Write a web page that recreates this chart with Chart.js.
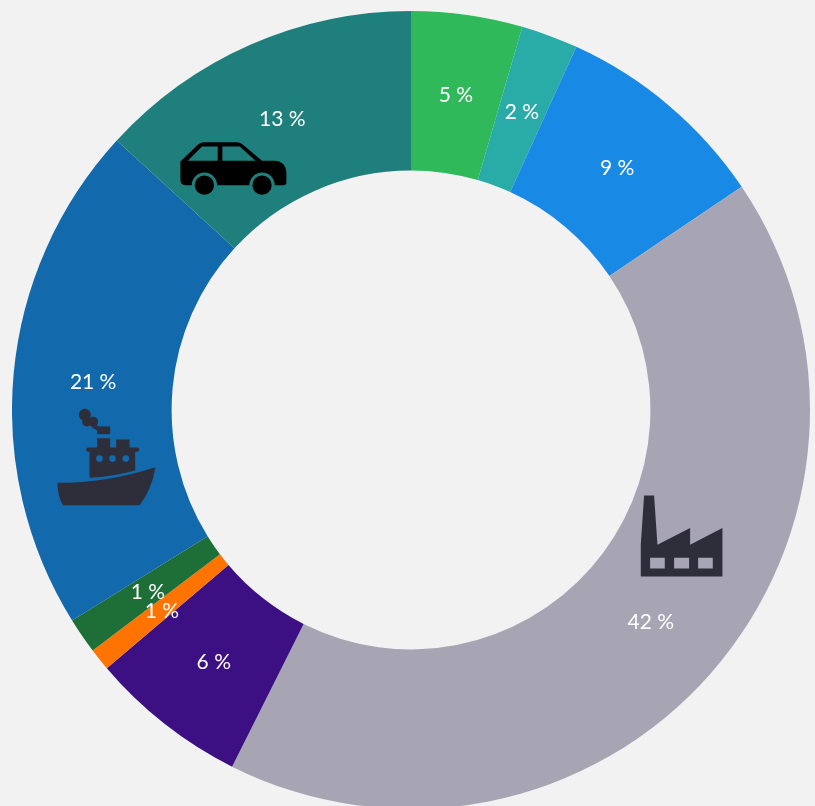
<!DOCTYPE html>
<html>
<head>
<meta charset="utf-8">
<title>Doughnut</title>
<script src="https://cdn.jsdelivr.net/npm/chart.js@4"></script>
<style>
  html, body { margin: 0; height: 100%; background: #f2f2f2; overflow: hidden; }
  #myChart { position: absolute; left: 12px; top: 11px; }
</style>
</head>
<body>
<canvas id="myChart" width="798" height="798"></canvas>
<script>
const sliceNames = ['a', 'b', 'c', 'industry', 'd', 'e', 'f', 'shipping', 'cars'];
const sliceValues = [4.5, 2.3, 8.75, 41.85, 6.4, 0.9, 1.45, 20.65, 13.2];
const sliceLabels = ['5 %', '2 %', '9 %', '42 %', '6 %', '1 %', '1 %', '21 %', '13 %'];
const sliceColors = ['#2fb95a', '#29aca8', '#1989e6', '#a7a5b4', '#3c0f82', '#ff7300', '#1d6f37', '#1269ab', '#1f7f7d'];

// icons are drawn at 3x in their own box, then scaled down, dx/dy go from the slice centre
const carPath = 'M30 185 L82 135 Q90 127 100 127 L200 127 Q208 127 214 132 L275 183 L312 183 Q348 185 348 222 L348 248 Q348 256 340 256 L313 256 ' +
  'A38 38 0 0 0 237 256 L140 256 A38 38 0 0 0 64 256 L45 256 Q30 256 30 240 Z ' +
  'M52 183 L95 140 L142 140 L142 183 Z M156 183 L156 140 L208 140 L255 183 Z ' +
  'M131 256 A29 29 0 1 1 73 256 A29 29 0 1 1 131 256 Z M304 256 A29 29 0 1 1 246 256 A29 29 0 1 1 304 256 Z';
const shipPath = 'M22 355 Q170 355 316 308 Q305 375 268 422 L38 422 Q22 395 22 355 Z ' +
  'M118 340 L118 262 L114 262 Q108 262 108 255 Q108 249 114 249 L141 249 L141 221 L180 221 L180 249 L198 249 L198 225 L238 225 L238 249 L261 249 Q267 249 267 255 Q267 262 261 262 L255 262 L255 318 Q190 336 118 340 Z ' +
  'M138 282 A10 10 0 1 0 158 282 A10 10 0 1 0 138 282 Z M177 282 A10 10 0 1 0 197 282 A10 10 0 1 0 177 282 Z M217 282 A10 10 0 1 0 237 282 A10 10 0 1 0 217 282 Z ';
const shipTop = 'M141 186 L180 186 L180 209 L141 209 Z';
const smoke1 = 'M86 151 A18 18 0 1 1 122 151 A18 18 0 1 1 86 151 Z';
const smoke2 = 'M96 172 A14 14 0 1 1 124 172 A14 14 0 1 1 96 172 Z';
const smoke3 = 'M114 172 A15 15 0 1 1 144 172 A15 15 0 1 1 114 172 Z';
const smoke4 = 'M130 176 L145 186 L141 198 L125 188 Z';
const factoryPath = 'M60 275 L60 180 L70 32 L100 32 L110 180 L208 130 L208 180 L305 130 L305 275 Z ' +
  'M88 219 L88 251 L132 251 L132 219 Z M160 219 L160 251 L205 251 L205 219 Z M232 219 L232 251 L276 251 L276 219 Z';

const icons = [
  { slice: 8, dx: -112, dy: -18, color: '#000000', paths: [carPath] },
  { slice: 7, dx: -43, dy: -16, color: '#2e2e3a', paths: [shipPath, shipTop, smoke1, smoke2, smoke3, smoke4] },
  { slice: 3, dx: -30, dy: -136, color: '#2e2e3a', paths: [factoryPath] }
];

// draws the percent text and the three icons on top of the slices
const sliceExtras = {
  id: 'sliceExtras',
  afterDatasetsDraw(chart) {
    const ctx = chart.ctx;
    const arcs = chart.getDatasetMeta(0).data;
    icons.forEach(icon => {
      const c = arcs[icon.slice].getCenterPoint();
      ctx.save();
      ctx.translate(c.x + icon.dx, c.y + icon.dy);
      ctx.scale(1 / 3, 1 / 3);
      ctx.fillStyle = icon.color;
      icon.paths.forEach(p => ctx.fill(new Path2D(p), 'evenodd'));
      ctx.restore();
    });
    ctx.save();
    ctx.font = '21px Lato';
    ctx.fillStyle = '#ffffff';
    ctx.textAlign = 'center';
    ctx.textBaseline = 'middle';
    arcs.forEach((arc, i) => {
      const c = arc.getCenterPoint();
      ctx.fillText(sliceLabels[i], c.x, c.y + 1.5);
    });
    ctx.restore();
  }
};

new Chart(document.getElementById('myChart'), {
  type: 'doughnut',
  data: {
    labels: sliceNames,
    datasets: [{
      data: sliceValues,
      backgroundColor: sliceColors,
      borderWidth: 0
    }]
  },
  options: {
    responsive: false,
    animation: false,
    cutout: '60%',
    plugins: {
      legend: { display: false },
      tooltip: { enabled: false }
    }
  },
  plugins: [sliceExtras]
});
</script>
</body>
</html>
